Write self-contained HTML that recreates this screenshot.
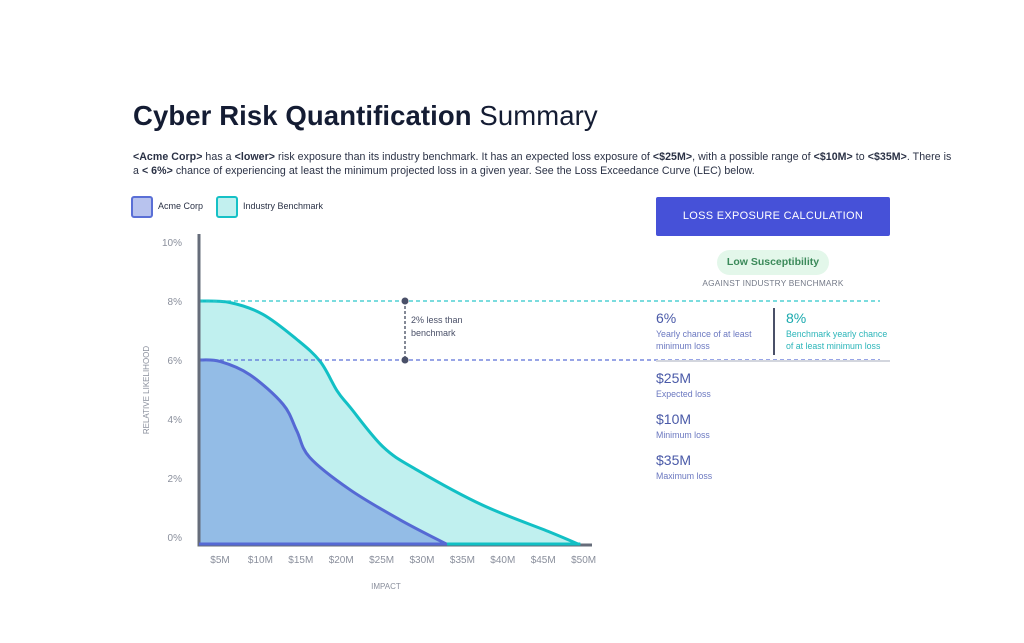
<!DOCTYPE html>
<html><head><meta charset="utf-8"><style>
body{margin:0;width:1024px;height:643px;background:#fff;font-family:"Liberation Sans",sans-serif;position:relative;overflow:hidden}
.abs{position:absolute}
h1{position:absolute;left:133px;top:100px;margin:0;font-size:27.5px;color:#141c33;font-weight:bold;letter-spacing:0.1px;white-space:nowrap}
h1 span{font-weight:normal}
.para{left:133px;top:151px;font-size:10.6px;line-height:13.5px;color:#2a3145;white-space:nowrap;letter-spacing:0.05px}
.btn{left:656px;top:197px;width:234px;height:39px;background:#4651d8;border-radius:2px;color:#fff;font-size:11px;letter-spacing:0.3px;text-align:center;line-height:39px}
.pill{left:717px;top:250px;width:112px;height:25px;border-radius:13px;background:#e3f7ea;color:#3b8a5a;font-size:10.5px;font-weight:bold;text-align:center;line-height:25px}
.sub{left:656px;top:278px;width:234px;text-align:center;font-size:8.3px;color:#747a88;letter-spacing:0.2px}
.big{font-size:14px;color:#4a5aa8}
.lbl{font-size:8.8px;color:#6b78c0;line-height:11.5px}
</style></head><body>
<h1>Cyber Risk Quantification <span>Summary</span></h1>
<div class="abs para"><b>&lt;Acme Corp&gt;</b> has a <b>&lt;lower&gt;</b> risk exposure than its industry benchmark. It has an expected loss exposure of <b>&lt;$25M&gt;</b>, with a possible range of <b>&lt;$10M&gt;</b> to <b>&lt;$35M&gt;</b>. There is<br>a <b>&lt; 6%&gt;</b> chance of experiencing at least the minimum projected loss in a given year. See the Loss Exceedance Curve (LEC) below.</div>

<div class="abs" style="left:131px;top:196px;width:18px;height:18px;border:2.5px solid #5a6fd6;background:#b8c3ee;border-radius:3px"></div>
<div class="abs" style="left:158px;top:201px;font-size:9px;color:#2a3145">Acme Corp</div>
<div class="abs" style="left:216px;top:196px;width:18px;height:18px;border:2.5px solid #16c1c6;background:#c2f0ef;border-radius:3px"></div>
<div class="abs" style="left:243px;top:201px;font-size:9px;color:#2a3145">Industry Benchmark</div>

<svg class="abs" style="left:0;top:0" width="1024" height="643" id="chart"></svg>

<div class="abs btn">LOSS EXPOSURE CALCULATION</div>
<div class="abs pill">Low Susceptibility</div>
<div class="abs sub">AGAINST INDUSTRY BENCHMARK</div>

<div class="abs" style="left:656px;top:310px"><div class="big">6%</div><div class="lbl" style="margin-top:3px">Yearly chance of at least<br>minimum loss</div></div>
<div class="abs" style="left:773px;top:308px;width:2px;height:47px;background:#4a5068"></div>
<div class="abs" style="left:786px;top:310px"><div class="big" style="color:#1aa9ae">8%</div><div class="lbl" style="margin-top:3px;color:#2bb5b9">Benchmark yearly chance<br>of at least minimum loss</div></div>
<div class="abs" style="left:656px;top:360px;width:234px;height:2px;background:#d3d6de"></div>
<div class="abs" style="left:656px;top:370px"><div class="big">$25M</div><div class="lbl" style="margin-top:3px">Expected loss</div></div>
<div class="abs" style="left:656px;top:411px"><div class="big">$10M</div><div class="lbl" style="margin-top:3px">Minimum loss</div></div>
<div class="abs" style="left:656px;top:452px"><div class="big">$35M</div><div class="lbl" style="margin-top:3px">Maximum loss</div></div>

<script>
const xTicks=[5,10,15,20,25,30,35,40,45,50];
const yTicks=[0,2,4,6,8,10];
const acmeX=[2.4,5,8.7,12.8,14.5,16.1,21.1,27.3,33.1];
const acmeY=[6,5.95,5.5,4.5,3.6,2.7,1.6,0.58,-0.25];
const benchX=[2.4,6.2,10.3,14.5,17.4,19.5,21.1,25.2,29.4,37.5,45.8,49.6];
const benchY=[8,7.95,7.55,6.7,5.95,4.95,4.4,3.05,2.27,1.08,0.17,-0.27];
const acmeLevel=6, benchLevel=8, diffLabel="2%  less than";
const xs=v=>220+(v-5)*8.08;
const ys=v=>537-v*29.5;
const svg=document.getElementById('chart');
const NS='http://www.w3.org/2000/svg';
function mk(t,a){const e=document.createElementNS(NS,t);for(const k in a)e.setAttribute(k,a[k]);svg.appendChild(e);return e;}
function smooth(X,Y){const p=X.map((x,i)=>[xs(x),ys(Y[i])]);let d='M'+p[0][0]+','+p[0][1];
for(let i=0;i<p.length-1;i++){const p0=p[Math.max(0,i-1)],p1=p[i],p2=p[i+1],p3=p[Math.min(p.length-1,i+2)];
d+=' C'+(p1[0]+(p2[0]-p0[0])/6)+','+(p1[1]+(p2[1]-p0[1])/6)+' '+(p2[0]-(p3[0]-p1[0])/6)+','+(p2[1]-(p3[1]-p1[1])/6)+' '+p2[0]+','+p2[1];}return d;}
const base=545, x0=199;
let e;
// benchmark area
const bd=smooth(benchX,benchY);
e=mk('path',{d:bd+' L'+xs(benchX[benchX.length-1])+','+base+' L'+x0+','+base+' Z',fill:'#c0f0ef'});

e=mk('path',{d:'M'+x0+','+base+' L'+x0+','+ys(benchY[0])+' '+bd.replace('M','L')+' L'+xs(benchX[benchX.length-1])+','+base+' L'+x0+','+base,fill:'none',stroke:'#12c0c5','stroke-width':3,'stroke-linejoin':'round'});

// acme area
const ad=smooth(acmeX,acmeY);
e=mk('path',{d:ad+' L'+xs(acmeX[acmeX.length-1])+','+base+' L'+x0+','+base+' Z',fill:'#93bce6'});

e=mk('path',{d:'M'+x0+','+base+' L'+x0+','+ys(acmeY[0])+' '+ad.replace('M','L')+' L'+x0+','+base,fill:'none',stroke:'#5569d4','stroke-width':3,'stroke-linejoin':'round'});

// dashed reference lines
e=mk('line',{x1:x0,x2:880,y1:ys(benchLevel),y2:ys(benchLevel),stroke:'#2cc6cb','stroke-width':1.3,'stroke-dasharray':'4,3'});

e=mk('line',{x1:x0,x2:880,y1:ys(acmeLevel),y2:ys(acmeLevel),stroke:'#5a6fd6','stroke-width':1.3,'stroke-dasharray':'4,3'});

e=mk('line',{x1:405,x2:405,y1:ys(benchLevel),y2:ys(acmeLevel),stroke:'#5b6274','stroke-width':1.5,'stroke-dasharray':'3,2'});

[benchLevel,acmeLevel].forEach(v=>{const c=mk('circle',{cx:405,cy:ys(v),r:3.5,fill:'#4a5068'});
});
e=mk('text',{x:411,y:ys(benchLevel)+22,'font-size':9,fill:'#4a5068','font-family':'Liberation Sans'});e.textContent=diffLabel;

e=mk('text',{x:411,y:ys(benchLevel)+35,'font-size':9,fill:'#4a5068','font-family':'Liberation Sans'});e.textContent='benchmark';

// axes
e=mk('line',{x1:x0,x2:x0,y1:234,y2:base+1.5,stroke:'#666c7a','stroke-width':3});

e=mk('line',{x1:x0-1.5,x2:592,y1:base,y2:base,stroke:'#666c7a','stroke-width':3});

// redraw colored baseline segments over axis
e=mk('line',{x1:x0,x2:xs(acmeX[acmeX.length-1]),y1:base-1,y2:base-1,stroke:'#5569d4','stroke-width':3});

e=mk('line',{x1:xs(acmeX[acmeX.length-1]),x2:xs(benchX[benchX.length-1]),y1:base-1,y2:base-1,stroke:'#12c0c5','stroke-width':3});

yTicks.forEach(v=>{const t=mk('text',{x:182,y:ys(v)+4,'font-size':10,fill:'#8a8f9c','text-anchor':'end','font-family':'Liberation Sans'});t.textContent=v+'%';
});
xTicks.forEach(v=>{const t=mk('text',{x:xs(v),y:563,'font-size':10,fill:'#8a8f9c','text-anchor':'middle','font-family':'Liberation Sans'});t.textContent='$'+v+'M';
});
e=mk('text',{x:386,y:589,'font-size':8,fill:'#8a8f9c','text-anchor':'middle','font-family':'Liberation Sans'});e.textContent='IMPACT';

e=mk('text',{x:0,y:0,'font-size':8,fill:'#8a8f9c','text-anchor':'middle','font-family':'Liberation Sans',transform:'translate(149,390) rotate(-90)'});e.textContent='RELATIVE LIKELIHOOD';

</script>
</body></html>
